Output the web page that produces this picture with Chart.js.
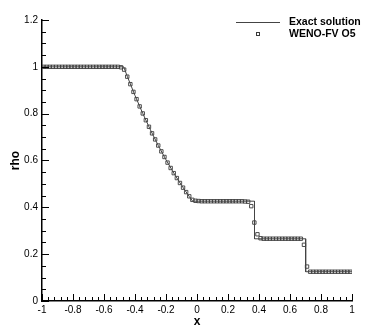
<!DOCTYPE html>
<html>
<head>
<meta charset="utf-8">
<script src="https://cdn.jsdelivr.net/npm/chart.js@4"></script>
<style>
  html, body { margin: 0; padding: 0; background: #fff; }
  #wrap { width: 374px; height: 332px; }
</style>
</head>
<body>
<div id="wrap"><canvas id="rhoChart" width="374" height="332"></canvas></div>
<script>
// exact Riemann solution (breakpoints + rarefaction fan)
const exactX = [-1, -0.473, -0.45, -0.4, -0.35, -0.3, -0.25, -0.2, -0.15, -0.1, -0.05, -0.028, 0.371, 0.371, 0.701, 0.701, 1];
const exactRho = [1, 1, 0.9597, 0.8775, 0.8010, 0.7300, 0.6640, 0.6030, 0.5464, 0.4943, 0.4461, 0.4263, 0.4263, 0.2656, 0.2656, 0.125, 0.125];

// WENO-FV O5 cell values
const numX = [
  -0.99, -0.97, -0.95, -0.93, -0.91, -0.89, -0.87, -0.85, -0.83, -0.81,
  -0.79, -0.77, -0.75, -0.73, -0.71, -0.69, -0.67, -0.65, -0.63, -0.61,
  -0.59, -0.57, -0.55, -0.53, -0.51, -0.49, -0.47, -0.45, -0.43, -0.41,
  -0.39, -0.37, -0.35, -0.33, -0.31, -0.29, -0.27, -0.25, -0.23, -0.21,
  -0.19, -0.17, -0.15, -0.13, -0.11, -0.09, -0.07, -0.05, -0.03, -0.01,
  0.01, 0.03, 0.05, 0.07, 0.09, 0.11, 0.13, 0.15, 0.17, 0.19,
  0.21, 0.23, 0.25, 0.27, 0.29, 0.31, 0.33, 0.35, 0.37, 0.39,
  0.41, 0.43, 0.45, 0.47, 0.49, 0.51, 0.53, 0.55, 0.57, 0.59,
  0.61, 0.63, 0.65, 0.67, 0.69, 0.71, 0.73, 0.75, 0.77, 0.79,
  0.81, 0.83, 0.85, 0.87, 0.89, 0.91, 0.93, 0.95, 0.97, 0.99
];
const numRho = [
  1, 1, 1, 1, 1, 1, 1, 1, 1, 1,
  1, 1, 1, 1, 1, 1, 1, 1, 1, 1,
  1, 1, 1, 1, 1, 0.998, 0.988, 0.958, 0.926, 0.893,
  0.862, 0.831, 0.801, 0.772, 0.744, 0.716, 0.690, 0.664, 0.639, 0.615,
  0.591, 0.568, 0.546, 0.525, 0.504, 0.484, 0.465, 0.447, 0.432, 0.428,
  0.427, 0.426, 0.426, 0.426, 0.426, 0.426, 0.426, 0.426, 0.426, 0.426,
  0.426, 0.426, 0.426, 0.426, 0.426, 0.425, 0.424, 0.405, 0.335, 0.285,
  0.268, 0.266, 0.266, 0.266, 0.266, 0.266, 0.266, 0.266, 0.266, 0.266,
  0.266, 0.266, 0.266, 0.266, 0.24, 0.147, 0.125, 0.125, 0.125, 0.125,
  0.125, 0.125, 0.125, 0.125, 0.125, 0.125, 0.125, 0.125, 0.125, 0.125
];

const xTicks = [-1, -0.8, -0.6, -0.4, -0.2, 0, 0.2, 0.4, 0.6, 0.8, 1];
const yTicks = [0, 0.2, 0.4, 0.6, 0.8, 1, 1.2];

const FONT = "'Liberation Sans', Arial, sans-serif";
const fmt = v => String(Number(v.toFixed(1)));

// inward major/minor ticks + legend
const tecplotAxes = {
  id: "tecplotAxes",
  afterDraw(chart) {
    const ctx = chart.ctx;
    const xs = chart.scales.x, ys = chart.scales.y;
    const area = chart.chartArea;
    ctx.save();
    ctx.strokeStyle = "#000";
    ctx.lineWidth = 1;
    // x: minor every 0.04
    for (let k = 0; k <= 50; k++) {
      const px = Math.round(xs.getPixelForValue(-1 + k * 0.04)) + 0.5;
      const len = k % 5 === 0 ? 7 : 4;
      ctx.beginPath();
      ctx.moveTo(px, area.bottom);
      ctx.lineTo(px, area.bottom - len);
      ctx.stroke();
    }
    // y: minor every 0.05
    for (let k = 0; k <= 24; k++) {
      const py = Math.round(ys.getPixelForValue(k * 0.05)) + 0.5;
      const len = k % 4 === 0 ? 7 : 4;
      ctx.beginPath();
      ctx.moveTo(area.left, py);
      ctx.lineTo(area.left + len, py);
      ctx.stroke();
    }

    // legend
    const ds = chart.data.datasets;
    ctx.font = "bold 10.5px " + FONT;
    ctx.fillStyle = "#000";
    ctx.textBaseline = "middle";
    ctx.strokeStyle = ds[0].borderColor;
    ctx.beginPath();
    ctx.moveTo(236, 22.5);
    ctx.lineTo(280, 22.5);
    ctx.stroke();
    ctx.fillText(ds[0].label, 289, 22);
    ctx.strokeStyle = ds[1].borderColor;
    ctx.strokeRect(256.5, 32.5, 3, 3);
    ctx.fillText(ds[1].label, 289, 34);
    ctx.restore();
  }
};

new Chart(document.getElementById("rhoChart").getContext("2d"), {
  type: "scatter",
  data: {
    datasets: [
      {
        label: "Exact solution",
        data: exactX.map((x, i) => ({ x: x, y: exactRho[i] })),
        showLine: true,
        borderColor: "#444",
        borderWidth: 1,
        pointRadius: 0,
        tension: 0
      },
      {
        label: "WENO-FV O5",
        data: numX.map((x, i) => ({ x: x, y: numRho[i] })),
        showLine: false,
        pointStyle: "rect",
        pointRadius: 2.4,
        borderColor: "#3a3a3a",
        borderWidth: 0.9,
        backgroundColor: "rgba(255,255,255,0)"
      }
    ]
  },
  options: {
    responsive: false,
    animation: false,
    layout: { padding: { top: 20, right: 22, left: 0, bottom: 0 } },
    plugins: { legend: { display: false }, tooltip: { enabled: false } },
    scales: {
      x: {
        type: "linear",
        min: -1, max: 1,
        afterFit: s => { s.height = 31; },
        afterBuildTicks: s => { s.ticks = xTicks.map(v => ({ value: v })); },
        grid: { display: false, drawTicks: false },
        border: { display: true, color: "#000", width: 1.5 },
        ticks: { color: "#000", font: { family: FONT, size: 10 }, padding: 3, maxRotation: 0, callback: fmt },
        title: { display: true, text: "x", color: "#000", font: { family: FONT, size: 12, weight: "bold" }, padding: { top: 3, bottom: 3 } }
      },
      y: {
        type: "linear",
        min: 0, max: 1.2,
        afterFit: s => { s.width = 42; },
        afterBuildTicks: s => { s.ticks = yTicks.map(v => ({ value: v })); },
        grid: { display: false, drawTicks: false },
        border: { display: true, color: "#000", width: 1.5 },
        ticks: { color: "#000", font: { family: FONT, size: 10 }, padding: 4, callback: fmt },
        title: { display: true, text: "rho", color: "#000", font: { family: FONT, size: 12, weight: "bold" }, padding: { top: 8, bottom: 8 } }
      }
    }
  },
  plugins: [tecplotAxes]
});
</script>
</body>
</html>
